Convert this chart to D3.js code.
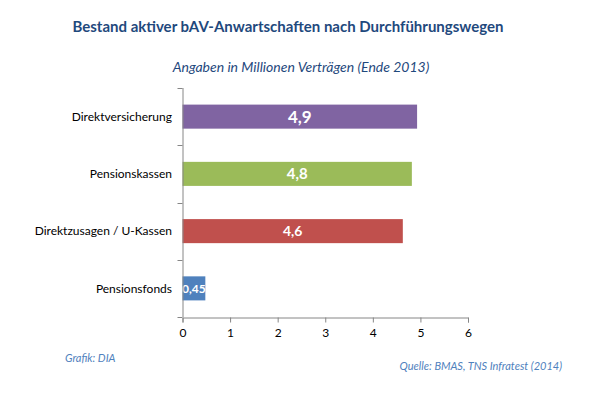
<!DOCTYPE html>
<html><head><meta charset="utf-8">
<script src="https://cdn.jsdelivr.net/npm/d3@7"></script>
<style>body{margin:0;background:#fff}svg{display:block}text{font-family:Lato,"Open Sans",sans-serif}</style>
</head><body><svg id="c" width="602" height="408"></svg>
<script>
const categories = ["Direktversicherung","Pensionskassen","Direktzusagen / U-Kassen","Pensionsfonds"];
const values = [4.93, 4.82, 4.63, 0.48];
const valueLabels = ["4,9","4,8","4,6","0,45"];
const colors = ["#8064A2","#9BBB59","#C0504D","#4F81BD"];
const labelSizes = [17,15,14,12];
const xTicks = [0,1,2,3,4,5,6];

const svg = d3.select("#c");
const x = d3.scaleLinear().domain([0,6]).range([182.5,468]);
const y = d3.scaleBand().domain(categories).range([88,317]).paddingInner(0.58).paddingOuter(0.29);
const axisColor = "#868686";

svg.append("text").attr("x",288).attr("y",32).attr("text-anchor","middle")
  .attr("font-size",15).attr("font-weight","bold").attr("fill","#1F497D")
  .text("Bestand aktiver bAV-Anwartschaften nach Durchführungswegen");
svg.append("text").attr("x",301).attr("y",72).attr("text-anchor","middle")
  .attr("font-size",14).attr("font-style","italic").attr("fill","#1F497D")
  .text("Angaben in Millionen Verträgen (Ende 2013)");

svg.selectAll("rect.bar").data(categories).join("rect").attr("class","bar")
  .attr("x",x(0)).attr("y",d=>y(d)).attr("height",y.bandwidth())
  .attr("width",(d,i)=>x(values[i])-x(0)).attr("fill",(d,i)=>colors[i]);

svg.selectAll("text.val").data(categories).join("text").attr("class","val")
  .attr("x",(d,i)=>(x(0)+x(values[i]))/2)
  .attr("y",d=>y(d)+y.bandwidth()/2).attr("dy","0.36em").attr("text-anchor","middle")
  .attr("fill","#fff").attr("font-weight","bold").attr("font-size",(d,i)=>labelSizes[i])
  .text((d,i)=>valueLabels[i]);

// y axis
svg.append("line").attr("x1",x(0)+0.5).attr("x2",x(0)+0.5).attr("y1",88).attr("y2",317).attr("stroke",axisColor);
const bounds = [88].concat(categories.map(d=>y(d)+y.bandwidth()+y.step()*y.paddingInner()/2));
svg.selectAll("line.yt").data(bounds).join("line").attr("class","yt")
  .attr("x1",x(0)-5).attr("x2",x(0)).attr("y1",d=>Math.round(d)+0.5).attr("y2",d=>Math.round(d)+0.5).attr("stroke",axisColor);
svg.selectAll("text.cat").data(categories).join("text").attr("class","cat")
  .attr("x",172).attr("y",d=>y(d)+y.bandwidth()/2).attr("dy","0.35em").attr("text-anchor","end")
  .attr("font-size",12).attr("fill","#000").text(d=>d);

// x axis
const xa = svg.append("g").attr("transform","translate(0,317.5)")
  .call(d3.axisBottom(x).tickValues(xTicks).tickSize(5).tickPadding(6).tickFormat(d3.format("d")));
xa.select(".domain").attr("stroke",axisColor);
xa.selectAll(".tick line").attr("stroke",axisColor);
xa.selectAll(".tick text").attr("font-size",12).attr("fill","#000").attr("font-family","Lato, 'Open Sans', sans-serif");

svg.append("text").attr("x",65).attr("y",362).attr("font-size",11).attr("font-style","italic")
  .attr("fill","#4F81BD").text("Grafik: DIA");
svg.append("text").attr("x",562).attr("y",370).attr("text-anchor","end").attr("font-size",11).attr("font-style","italic")
  .attr("fill","#4F81BD").text("Quelle: BMAS, TNS Infratest (2014)");
</script></body></html>
